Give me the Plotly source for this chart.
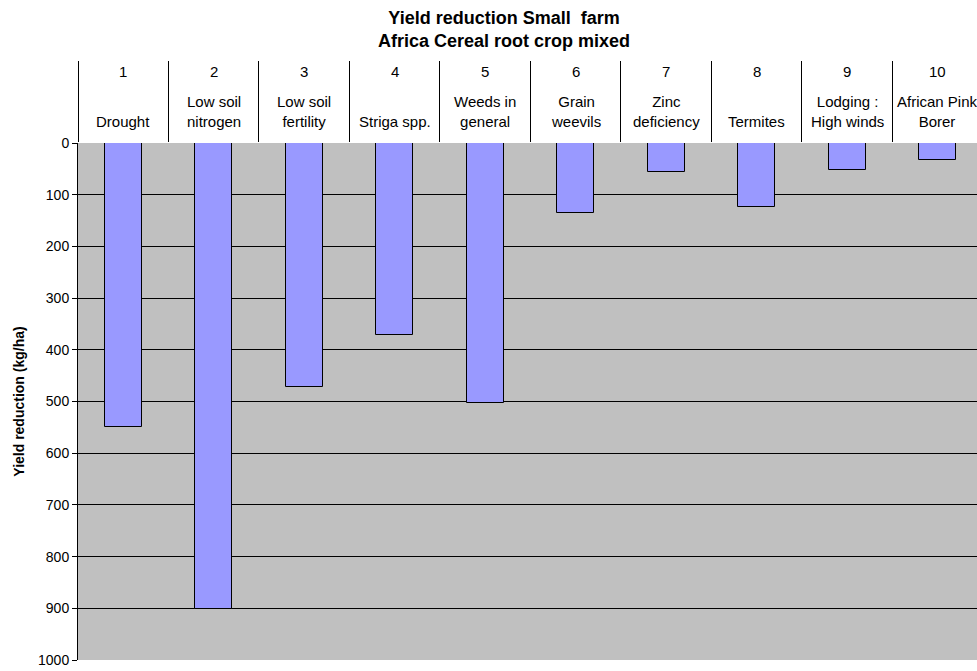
import plotly.graph_objects as go

numbers = ["1", "2", "3", "4", "5", "6", "7", "8", "9", "10"]
labels = ["Drought", "Low soil<br>nitrogen", "Low soil<br>fertility", "Striga spp.",
          "Weeds in<br>general", "Grain<br>weevils", "Zinc<br>deficiency", "Termites",
          "Lodging :<br>High winds", "African Pink<br>Borer"]
values = [550, 902, 471, 372, 502, 135, 56, 124, 52, 32]
y_ticks = [0, 100, 200, 300, 400, 500, 600, 700, 800, 900, 1000]

positions = list(range(1, len(values) + 1))
FONT = "Liberation Sans, Arial, sans-serif"

fig = go.Figure()
fig.add_trace(go.Bar(
    x=positions, y=values, width=0.405,
    marker=dict(color="#9999FF", line=dict(color="black", width=1)),
    hoverinfo="skip",
))

annotations = []
for p, n, lab in zip(positions, numbers, labels):
    annotations.append(dict(x=p, y=1.139, xref="x", yref="paper", text=n,
                            showarrow=False, yanchor="middle", xanchor="center",
                            font=dict(family=FONT, size=15, color="black")))
    annotations.append(dict(x=p, y=1.022, xref="x", yref="paper", text=lab,
                            showarrow=False, yanchor="bottom", xanchor="center",
                            font=dict(family=FONT, size=15, color="black")))

fig.update_layout(
    width=977, height=671,
    autosize=False,
    margin=dict(l=78, r=0, t=143, b=11, pad=0),
    paper_bgcolor="white",
    plot_bgcolor="#C0C0C0",
    showlegend=False,
    bargap=0,
    title=dict(text="<b>Yield reduction Small  farm<br>Africa Cereal root crop mixed</b>",
               x=504 / 977, xanchor="center", xref="container",
               y=1 - 24 / 671, yanchor="middle", yref="container",
               font=dict(family=FONT, size=18, color="black")),
    font=dict(family=FONT, size=14, color="black"),
    xaxis=dict(
        side="top", range=[0.5, 10.434], showgrid=False, zeroline=False,
        tickmode="array", tickvals=[p - 0.5 for p in positions],
        ticks="outside", ticklen=81, tickcolor="black", tickwidth=1,
        showticklabels=False, showline=False, fixedrange=True,
    ),
    yaxis=dict(
        range=[1000, 0], tickmode="array", tickvals=y_ticks,
        ticks="outside", ticklen=5, tickcolor="black", tickwidth=1,
        showgrid=True, gridcolor="black", gridwidth=1,
        showline=True, linecolor="black", linewidth=1,
        zeroline=False,
        tickfont=dict(family=FONT, size=14, color="black"),
        title=dict(text="<b>Yield reduction (kg/ha)</b>", standoff=10,
                   font=dict(family=FONT, size=14, color="black")),
        fixedrange=True,
    ),
    annotations=annotations,
)

fig.write_html("out.html", config={"displayModeBar": False},
               post_script="document.body.style.margin='0';document.body.style.overflow='hidden';")
